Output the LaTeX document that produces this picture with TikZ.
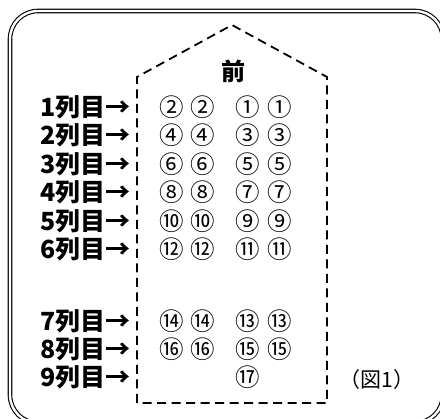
\documentclass[tikz,border=0pt]{standalone}
\usepackage{fontspec}
\newfontfamily\jp{Noto Sans CJK JP}
\begin{document}
\begin{tikzpicture}[x=1pt,y=-1pt,
  rowlabel/.style={anchor=east,inner sep=0pt,font=\jp\bfseries\fontsize{25}{25}\selectfont},
  seat/.style={inner sep=0pt,font=\jp\fontsize{24.5}{24.5}\selectfont},
  frame/.style={draw=black,double=white,double distance=2.4pt,line width=1.1pt,rounded corners=28pt},
  outline/.style={draw=black,line width=1.8pt,dash pattern=on 9pt off 5.5pt}]
\useasboundingbox (0,0) rectangle (440,419);
\fill[white] (0,0) rectangle (440,419);
\draw[frame] (10,11) rectangle (443,423);
% dashed outline
\coordinate (bl) at (137,403);
\coordinate (tl) at (137,77);
\coordinate (apex) at (232,25);
\coordinate (tr) at (327,77);
\coordinate (br) at (327,403);
\draw[outline] (bl) -- (tl) -- (apex) -- (tr) -- (br) -- cycle;
\node[inner sep=0pt,font=\jp\bfseries\fontsize{24}{24}\selectfont] (front) at (233,71) {前};
% row labels
\foreach \i/\y in {1/107,2/135.5,3/164,4/192.5,5/221,6/249.5,7/321,8/349,9/377}{
  \node[rowlabel] (r\i) at (131,\y) {\i 列目→};
}
% seats
\foreach \i/\a/\b/\y in {1/②/①/107,2/④/③/135.5,3/⑥/⑤/164,4/⑧/⑦/192.5,5/⑩/⑨/221,6/⑫/⑪/249.5,7/⑭/⑬/321,8/⑯/⑮/349}{
  \node[seat] (s\i a) at (172,\y) {\a};
  \node[seat] (s\i b) at (203,\y) {\a};
  \node[seat] (s\i c) at (248,\y) {\b};
  \node[seat] (s\i d) at (280,\y) {\b};
}
\node[seat] (s9c) at (248,377) {⑰};
\node[inner sep=0pt,font=\jp\fontsize{21}{21}\selectfont] (fig) at (377,380) {（図1）};
\end{tikzpicture}
\end{document}
